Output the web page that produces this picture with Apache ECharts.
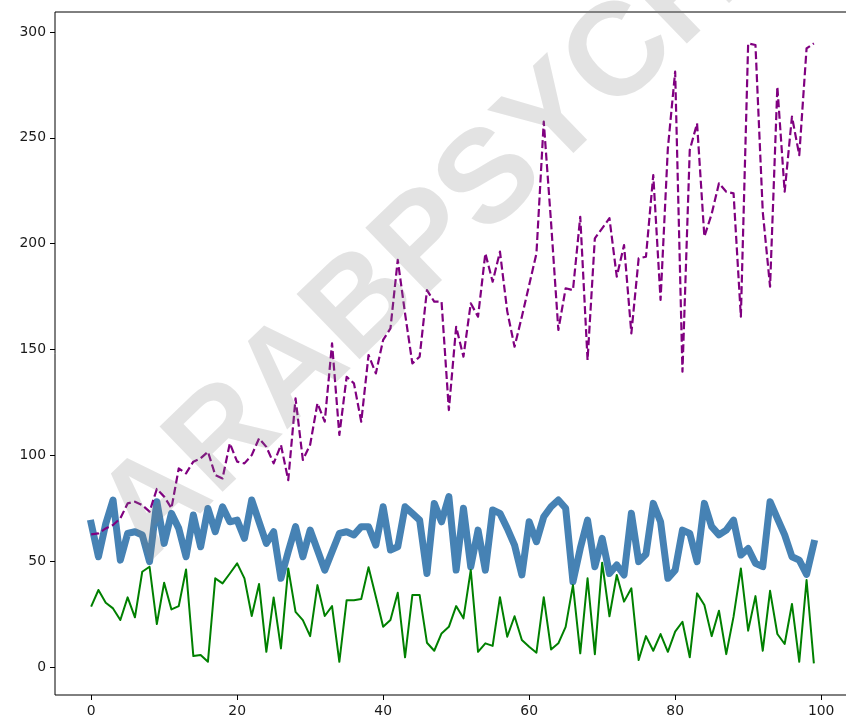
<!DOCTYPE html>
<html><head><meta charset="utf-8">
<script src="https://cdn.jsdelivr.net/npm/echarts@6/dist/echarts.min.js"></script>
<style>html,body{margin:0;padding:0;background:#fff}#c{width:846px;height:724px}</style>
</head><body><div id="c"></div>
<script>
const purpleValues = [62.7,63.1,65.5,67.1,70.2,77.3,78.1,76.5,73.4,84.1,
  80.5,75,93.8,91.5,97,98.6,101.7,90.7,89.1,105.7,
  97,96.2,100.1,108,104,96.2,104.9,88.3,126.9,97.8,
  105,124.6,115.9,152.9,109.6,137.1,134,115.9,147.4,138.7,
  154.5,160,192.3,167,143.4,146.6,178,172.6,172.6,121.4,
  160.7,146.6,171.8,165.5,195.4,182,196.2,168,151.3,165.5,
  180.4,195.4,257.6,210,159.2,178.9,178,212.7,145,202.5,
  207.2,212,184.4,199.3,157.6,193,193.8,232.4,173.4,245,
  281.2,139.5,244.2,256.8,203.3,214,228.5,224.5,223.7,165.5,
  294.6,293.8,215,179.7,274.1,224.5,260,241.8,292.2,294.6];
const blueValues = [67.9,52.1,67.7,78.9,50.5,63.1,63.9,62.4,49.8,78.1,
  58.4,72.6,65.5,52.1,71.8,56.8,74.9,63.9,75.7,68.6,
  69.4,60.8,78.9,68.6,58.4,63.9,41.9,54.5,66.3,52.1,
  64.7,55.3,45.8,54.5,63.1,63.9,62.4,66.3,66.3,57.6,
  75.7,55.3,56.8,75.7,72.6,69.4,44.2,77.3,68.6,80.5,
  45.8,75,47.4,64.7,45.8,74.2,72.6,65.5,57.6,43.5,
  68.6,59.2,71,75.7,78.9,75,40.3,56,69.4,47.4,
  60.8,44.2,48.2,43.5,72.6,49.8,53.3,77.3,68.6,41.9,
  45.8,64.7,63.1,49.8,77.3,66.3,62.4,64.7,69.4,52.9,
  56,49,47.4,78.1,70.2,62.4,52.1,50.5,43.8,58.4];
const greenValues = [28.5,36.4,30.4,27.7,22.2,32.9,23.5,45,47.4,20.3,
  39.8,27.2,28.8,46.1,5.2,5.7,2.5,41.9,39.5,44.2,
  49,41.9,24.1,39.2,7.2,32.9,8.8,46.6,26.1,22.2,
  14.6,38.7,24.1,28.8,2.5,31.6,31.6,32.1,47.1,33.2,
  19,22.2,35.1,4.6,34,34,11.5,7.7,15.9,19,
  28.8,23,45.8,7.2,11.2,10,33,14.3,24,12.8,
  9.6,6.8,33,8.3,11.2,19,38.7,6.5,41.9,6.1,
  49.3,24,43.5,30.9,37.2,3.3,14.6,7.7,15.6,7.2,
  16.7,21.4,4.6,34.8,29.3,14.6,26.6,6.1,23.8,46.6,
  17.2,33.5,7.7,36,15.6,10.9,29.8,2.5,41.1,1.7];
const xTickLabels = [0, 20, 40, 60, 80, 100];
const yTickLabels = [0, 50, 100, 150, 200, 250, 300];
const watermarkText = 'ARABPSYCHO';

const xs = purpleValues.map((_, i) => i);
const pairs = vals => vals.map((v, i) => [xs[i], v]);

const labelStyle = {fontFamily: 'DejaVu Sans', fontSize: 13.9, color: '#1a1a1a'};
const chart = echarts.init(document.getElementById('c'), null, {renderer: 'canvas'});
chart.setOption({
  animation: false,
  backgroundColor: '#fff',
  grid: {left: 55, width: 795, top: 12, bottom: 29, show: true, borderColor: '#000', borderWidth: 1,
    backgroundColor: 'transparent', containLabel: false, outerBoundsMode: 'none'},
  xAxis: {
    type: 'value', min: -4.95, max: 103.95,
    splitLine: {show: false}, axisLine: {show: false, onZero: false},
    axisTick: {show: true, length: 5, lineStyle: {color: '#000'}, customValues: xTickLabels},
    axisLabel: Object.assign({customValues: xTickLabels, margin: 9}, labelStyle)
  },
  yAxis: {
    type: 'value', min: -13.2, max: 309.4,
    splitLine: {show: false}, axisLine: {show: false, onZero: false},
    axisTick: {show: true, length: 5, lineStyle: {color: '#000'}, customValues: yTickLabels},
    axisLabel: Object.assign({customValues: yTickLabels, margin: 9}, labelStyle)
  },
  series: [
    {type: 'line', data: pairs(blueValues), symbol: 'none', z: 2,
      lineStyle: {color: '#4682B4', width: 7, join: 'round', cap: 'square'}},
    {type: 'line', data: pairs(greenValues), symbol: 'none', z: 3,
      lineStyle: {color: '#008000', width: 2, join: 'round'}},
    {type: 'line', data: pairs(purpleValues), symbol: 'none', z: 4,
      lineStyle: {color: '#800080', width: 2.2, type: [8, 3.5], join: 'round'}}
  ],
  graphic: [{
    type: 'text', x: 460, y: 212, rotation: 44 * Math.PI / 180, z: 100, silent: true,
    style: {text: watermarkText, fontFamily: 'Liberation Sans', fontWeight: 'bold', fontSize: 132,
      fill: 'rgba(128,128,128,0.22)', align: 'center', verticalAlign: 'middle'}
  }]
});
</script></body></html>
